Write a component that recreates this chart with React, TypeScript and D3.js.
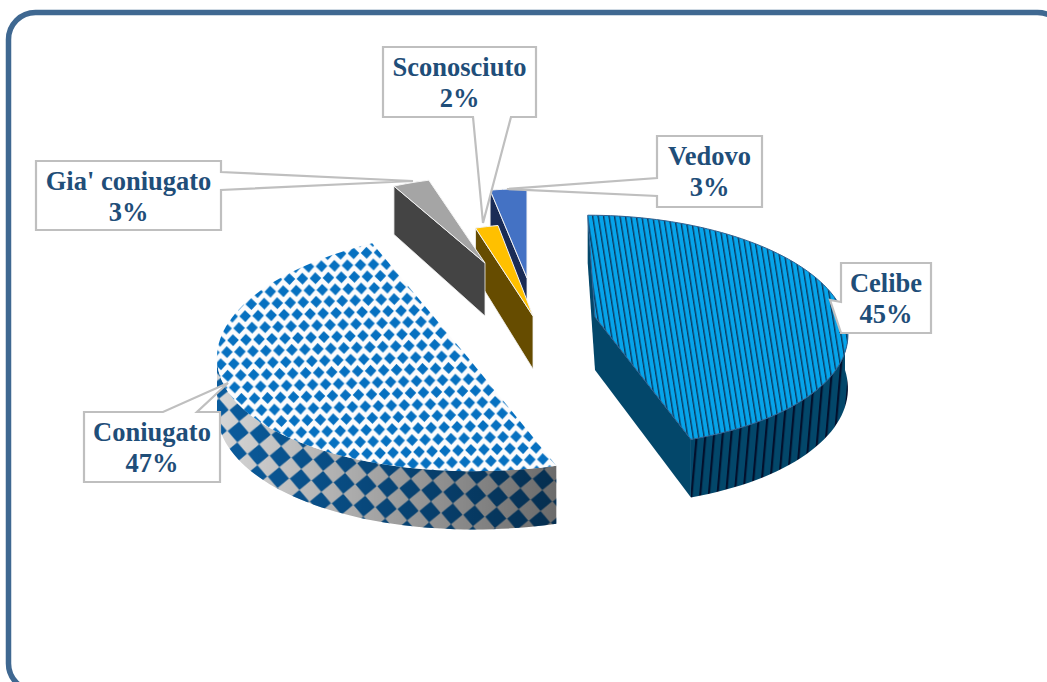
import React from "react";
import * as d3 from "d3";

// ---- data ----
const categories = ["Celibe", "Coniugato", "Gia' coniugato", "Sconosciuto", "Vedovo"];
const shares = [45, 47, 3, 2, 3];
const shareLabels = ["45%", "47%", "3%", "2%", "3%"];

// ---- layout / style ----
const WIDTH = 1047;
const HEIGHT = 682;
const CENTER_X = 527;
const CENTER_Y = 322;
const DEPTH = 53;
const INK = "#1f4e79";
const CALLOUT = "#bfbfbf";

// per-slice projection: explosion offset, ellipse radii, perspective, shear, tip nudge (px)
const explodeX = [68, -33, -42, 6, 0];
const explodeY = [-5, 33, -59, -6, -44];
const radiusX = [250, 277, 218, 205, 220];
const radiusY = [114, 122, 97, 103, 100];
const perspective = [0.12, -0.05, 0.12, 0.12, 0.12];
const shear = [0, 22, 0, 0, 0];
const tipNudgeX = [0, -24, 0, 0, 0];
const tipNudgeY = [0, 5, 0, 0, 0];
const topFill = ["url(#stripeTop)", "url(#diamondTop)", "#a5a5a5", "#ffc000", "#4472c4"];
const faceFill = ["#03476a", "#03476a", "#444444", "#664c00", "#1a2c56"];
const edgeStroke = ["#2f5f8f", "none", "#f4f4f4", "#f4f4f4", "#f4f4f4"];
const paintOrder = [4, 3, 2, 1, 0];

// callout box: x0, x1, y0, y1, wedge (base a, tip, base b)
const boxes = [
  { x0: 841, x1: 931, y0: 263, y1: 333, side: "left", a: 302, b: 333, tx: 830, ty: 300, l1: 292, l2: 323 },
  { x0: 84, x1: 220, y0: 412, y1: 482, side: "top", a: 163, b: 197, tx: 228, ty: 383, l1: 441, l2: 472 },
  { x0: 36, x1: 221, y0: 161, y1: 230, side: "right", a: 172, b: 190, tx: 413, ty: 181, l1: 190, l2: 221 },
  { x0: 383, x1: 536, y0: 47, y1: 117, side: "bottom", a: 473, b: 511, tx: 483, ty: 223, l1: 76, l2: 107 },
  { x0: 657, x1: 762, y0: 136, y1: 207, side: "left", a: 178, b: 196, tx: 507, ty: 189, l1: 165, l2: 196 },
];

const arcs = d3.pie<number>().sort(null).value((d) => d)(shares);
const unit = d3.scaleLinear().domain([0, 1]).range([0, 1]);
const poly = d3.line<[number, number]>();

function project(i: number, theta: number, r: number, drop: number): [number, number] {
  const X = unit(Math.sin(theta) * r);
  const Y = unit(Math.cos(theta) * r);
  const w = 1 + perspective[i] * Y;
  const x =
    CENTER_X + explodeX[i] + explodeX[i] * (1 / w - 1) + (radiusX[i] * X) / w + shear[i] * Y +
    (r === 0 ? tipNudgeX[i] : 0);
  const y =
    CENTER_Y + explodeY[i] - (radiusY[i] * Y) / w + drop * DEPTH * (1 - 0.1 * Y) +
    (r === 0 ? tipNudgeY[i] : 0);
  return [x, y];
}

function rim(i: number, a0: number, a1: number, drop: number): [number, number][] {
  const n = Math.max(4, Math.ceil(((a1 - a0) / Math.PI) * 90));
  return d3.range(n + 1).map((k) => project(i, a0 + ((a1 - a0) * k) / n, 1, drop));
}

function Slice({ i }: { i: number }) {
  const { startAngle: a0, endAngle: a1 } = arcs[i];
  const apexT = project(i, 0, 0, 0);
  const apexB = project(i, 0, 0, 1);
  const top = poly([apexT, ...rim(i, a0, a1, 0)]) + "Z";
  const face = (a: number) =>
    poly([apexT, project(i, a, 1, 0), project(i, a, 1, 1), apexB]) + "Z";
  // the part of the rim that faces the viewer
  const v0 = Math.max(a0, Math.PI / 2);
  const v1 = Math.min(a1, (3 * Math.PI) / 2);
  const wall = v1 > v0 ? poly([...rim(i, v0, v1, 0), ...rim(i, v0, v1, 1).reverse()]) + "Z" : null;
  return (
    <g>
      {i === 0 && <path d={face(a0)} fill={faceFill[i]} />}
      {i === 0 && <path d={face(a1)} fill={faceFill[i]} />}
      {i >= 2 && <path d={face(a0)} fill={faceFill[i]} stroke="#f4f4f4" strokeWidth={0.8} />}
      {wall && i === 0 && <path d={wall} fill="url(#stripeWall)" />}
      {wall && i === 1 && (
        <g>
          <path d={wall} fill="#d6d6d6" />
          <path d={wall} fill="url(#diamondWall)" />
          <path d={wall} fill="url(#wallShade)" />
        </g>
      )}
      <path d={top} fill={topFill[i]} stroke={edgeStroke[i]} strokeWidth={1} />
    </g>
  );
}

function calloutPath(b: (typeof boxes)[number]) {
  const p = d3.path();
  p.moveTo(b.x0, b.y0);
  if (b.side === "top") {
    p.lineTo(b.a, b.y0); p.lineTo(b.tx, b.ty); p.lineTo(b.b, b.y0);
  }
  p.lineTo(b.x1, b.y0);
  if (b.side === "right") {
    p.lineTo(b.x1, b.a); p.lineTo(b.tx, b.ty); p.lineTo(b.x1, b.b);
  }
  p.lineTo(b.x1, b.y1);
  if (b.side === "bottom") {
    p.lineTo(b.b, b.y1); p.lineTo(b.tx, b.ty); p.lineTo(b.a, b.y1);
  }
  p.lineTo(b.x0, b.y1);
  if (b.side === "left") {
    p.lineTo(b.x0, b.b); p.lineTo(b.tx, b.ty); p.lineTo(b.x0, b.a);
  }
  p.closePath();
  return p.toString();
}

export default function App() {
  return (
    <svg
      width={WIDTH}
      height={HEIGHT}
      viewBox={`0 0 ${WIDTH} ${HEIGHT}`}
      style={{ position: "absolute", left: 0, top: 0, display: "block", background: "#fff" }}
    >
      <defs>
        <pattern id="stripeTop" width={5.4} height={40} patternUnits="userSpaceOnUse" patternTransform="rotate(-9)">
          <rect width={5.4} height={40} fill="#06a4ea" />
          <rect width={1.4} height={40} fill="#0c3a60" />
        </pattern>
        <pattern id="stripeWall" width={8.6} height={40} patternUnits="userSpaceOnUse" patternTransform="rotate(5)">
          <rect width={8.6} height={40} fill="#03476a" />
          <rect width={2.2} height={40} fill="#03102c" />
        </pattern>
        <pattern id="diamondTop" width={13} height={23.6} patternUnits="userSpaceOnUse" patternTransform="rotate(-2)">
          <rect width={13} height={23.6} fill="#fcfcfd" />
          <path d="M6.5,-0.1 L12.3,5.9 L6.5,11.9 L0.7,5.9Z" fill="#0670c0" />
          <path d="M0,11.7 L5.8,17.7 L0,23.7 L-5.8,17.7Z" fill="#0670c0" />
          <path d="M13,11.7 L18.8,17.7 L13,23.7 L7.2,17.7Z" fill="#0670c0" />
        </pattern>
        <pattern id="diamondWall" width={22} height={21} patternUnits="userSpaceOnUse" patternTransform="rotate(5)">
          <path d="M11,0 L21.6,10.5 L11,21 L0.4,10.5Z" fill="#0a5c9e" />
        </pattern>
        <linearGradient id="wallShade" gradientUnits="userSpaceOnUse" x1={217} x2={556} y1={0} y2={0}>
          <stop offset="0" stopColor="#000" stopOpacity={0} />
          <stop offset="1" stopColor="#000" stopOpacity={0.5} />
        </linearGradient>
      </defs>

      <rect x={8.5} y={12.5} width={1056} height={678} rx={27} fill="#fff" stroke="#3f6891" strokeWidth={5.5} />

      {paintOrder.map((i) => (
        <Slice key={categories[i]} i={i} />
      ))}

      {paintOrder.map((i) => {
        const b = boxes[i];
        const mid = (b.x0 + b.x1) / 2;
        return (
          <g key={categories[i]}>
            <path d={calloutPath(b)} fill="#fff" stroke={CALLOUT} strokeWidth={2.2} strokeLinejoin="miter" />
            <text
              textAnchor="middle"
              fontFamily="'Liberation Serif', serif"
              fontWeight="bold"
              fontSize={26.5}
              fill={INK}
            >
              <tspan x={mid} y={b.l1}>{categories[i]}</tspan>
              <tspan x={mid} y={b.l2}>{shareLabels[i]}</tspan>
            </text>
          </g>
        );
      })}
    </svg>
  );
}
